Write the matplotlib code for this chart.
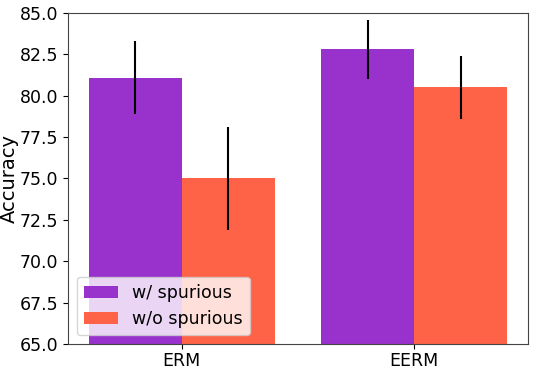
import matplotlib
matplotlib.use("Agg")
import matplotlib.pyplot as plt
import numpy as np

categories = ["ERM", "EERM"]
series_names = ["w/ spurious", "w/o spurious"]
with_spurious = [81.1, 82.8]
with_spurious_err = [2.2, 1.8]
without_spurious = [75.0, 80.5]
without_spurious_err = [3.1, 1.9]
colors = ["darkorchid", "tomato"]

fig = plt.figure(figsize=(5.33, 3.68), dpi=100)
ax = fig.add_axes([0.1276, 0.0652, 0.863, 0.8995])

x = np.arange(len(categories))
w = 0.4
ax.bar(x - w / 2, with_spurious, w, yerr=with_spurious_err, color=colors[0],
       label=series_names[0], error_kw=dict(ecolor="black", elinewidth=1.5, capsize=0))
ax.bar(x + w / 2, without_spurious, w, yerr=without_spurious_err, color=colors[1],
       label=series_names[1], error_kw=dict(ecolor="black", elinewidth=1.5, capsize=0))

ax.set_ylim(65, 85)
ax.set_xticks(x)
ax.set_xticklabels(categories, fontsize=12.5)
ax.tick_params(axis="y", labelsize=12.5)
ax.tick_params(axis="x", pad=2)
ax.set_ylabel("Accuracy", fontsize=14)
ax.yaxis.set_label_coords(-0.107, 0.5)
ax.legend(loc="lower left", fontsize=12.5)
for s in ax.spines.values():
    s.set_color("#444444")

fig.savefig("out.png", dpi=100)
